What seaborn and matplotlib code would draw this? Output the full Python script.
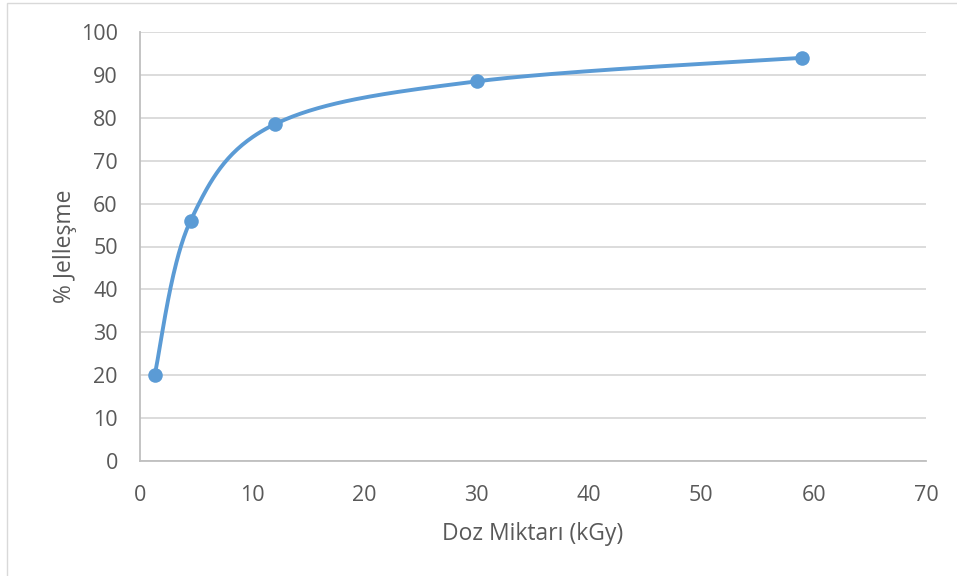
import numpy as np
import pandas as pd
import matplotlib.pyplot as plt
import seaborn as sns
from matplotlib.patches import Rectangle

# Data
doz = [1.3, 4.5, 12.0, 30.0, 59.0]
jellesme = [20.0, 56.0, 78.5, 88.5, 94.0]

x_ticks = [0, 10, 20, 30, 40, 50, 60, 70]
y_ticks = [0, 10, 20, 30, 40, 50, 60, 70, 80, 90, 100]

blue = '#5B9BD5'
text_gray = '#595959'

sns.set_style('white')
plt.rcParams['font.family'] = ['Open Sans', 'DejaVu Sans']


def excel_smooth(xs, ys, sx, sy, n=60):
    # bezier smoothing like Excel's "smoothed line", done in screen-like units
    p = np.column_stack([np.array(xs) * sx, np.array(ys) * sy])
    out = []
    for i in range(len(p) - 1):
        prev = p[i - 1] if i > 0 else p[i]
        nxt = p[i + 2] if i + 2 < len(p) else p[i + 1]
        c1 = p[i] + (p[i + 1] - prev) / 6
        c2 = p[i + 1] - (nxt - p[i]) / 6
        t = np.linspace(0, 1, n)[:, None]
        seg = ((1 - t) ** 3 * p[i] + 3 * (1 - t) ** 2 * t * c1
               + 3 * (1 - t) * t ** 2 * c2 + t ** 3 * p[i + 1])
        out.append(seg if i == 0 else seg[1:])
    out = np.vstack(out)
    return out[:, 0] / sx, out[:, 1] / sy


fig = plt.figure(figsize=(9.57, 5.76), dpi=100)
ax = fig.add_axes([140 / 957, 1 - 461 / 576, 786 / 957, 429 / 576])

# light chart-area border
fig.patches.append(Rectangle((7 / 957, -0.1), 1.2, 1 - 3 / 576 + 0.1,
                             transform=fig.transFigure, fill=False,
                             edgecolor='#D9D9D9', linewidth=1))

sx, sy = 786 / 70, 429 / 100
cx, cy = excel_smooth(doz, jellesme, sx, sy)
curve = pd.DataFrame({'x': cx, 'y': cy})
pts = pd.DataFrame({'doz': doz, 'jel': jellesme})

sns.lineplot(data=curve, x='x', y='y', ax=ax, color=blue, linewidth=2.8,
             sort=False, estimator=None, zorder=3)
sns.scatterplot(data=pts, x='doz', y='jel', ax=ax, color=blue, s=110,
                edgecolor=blue, linewidth=0, zorder=4)

ax.set_xlim(0, 70)
ax.set_ylim(0, 100)
ax.set_xticks(x_ticks)
ax.set_yticks(y_ticks)
ax.grid(axis='y', color='#D9D9D9', linewidth=1.3)
ax.set_axisbelow(True)
for s in ['top', 'right']:
    ax.spines[s].set_visible(False)
for s in ['left', 'bottom']:
    ax.spines[s].set_color('#BFBFBF')
    ax.spines[s].set_linewidth(1.3)
ax.tick_params(length=0, labelsize=15.5, labelcolor=text_gray)
ax.tick_params(axis='x', pad=17)
ax.tick_params(axis='y', pad=16)

ax.set_xlabel('Doz Miktarı (kGy)', fontsize=16.5, color=text_gray, labelpad=12)
ax.set_ylabel('% Jelleşme', fontsize=16.5, color=text_gray, labelpad=3)

fig.savefig('out.png', dpi=100)
